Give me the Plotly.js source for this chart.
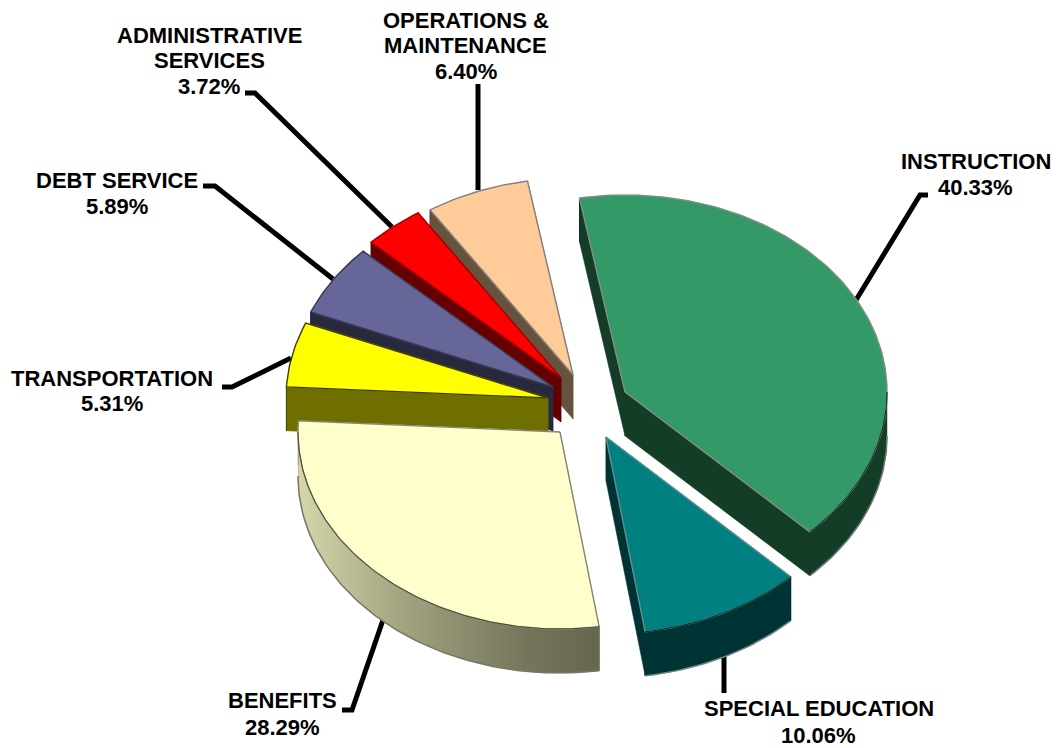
<!DOCTYPE html>
<html>
<head>
<meta charset="utf-8">
<script src="https://cdn.plot.ly/plotly-3.0.1.min.js"></script>
<style>html,body{margin:0;padding:0;background:#fff}#chart{width:1057px;height:748px}</style>
</head>
<body>
<div id="chart"></div>
<script>
// Budget shares, clockwise from the first slice
const categories = ['INSTRUCTION', 'SPECIAL EDUCATION', 'BENEFITS', 'TRANSPORTATION', 'DEBT SERVICE', 'ADMINISTRATIVE SERVICES', 'OPERATIONS & MAINTENANCE'];
const shares = [40.33, 10.06, 28.29, 5.31, 5.89, 3.72, 6.40];
const labelLines = [['INSTRUCTION'], ['SPECIAL EDUCATION'], ['BENEFITS'], ['TRANSPORTATION'], ['DEBT SERVICE'], ['ADMINISTRATIVE', 'SERVICES'], ['OPERATIONS &', 'MAINTENANCE']];

// Styling per slice
const topColors = ['#339966', '#008080', '#FFFFCC', '#FFFF00', '#666699', '#FF0000', '#FFCC99'];
const wallColors = ['#143d28', '#003333', '#99996f', '#6f6f00', '#29293d', '#660000', '#66523d'];
const backEdges = ['#7f8f85', '#5f8f8f', '#858578', '#3f3f00', '#3a3a55', '#a00000', '#808080'];
const frontEdges = ['#0e2c1d', '#002626', '#4a4a38', '#3f3f00', '#1f1f30', '#4d0000', '#4d3d2e'];
const lowerEdges = ['#6d7570', '#6f8585', '#77776c', '#6f6f00', '#29293d', '#660000', '#808080'];

// Tilted-pie geometry
const radiusX = 262, radiusY = 197, depth = 44, startAngle = -10;
const tips = [[625, 392], [606, 437], [560, 432], [548, 398], [553, 387], [561, 378], [573, 375]];
const paintOrder = [6, 5, 4, 3, 0, 1, 2];

// Label placement: centre x, first line y, line gap
const labelX = [975.5, 818.5, 282, 112, 116.5, 209, 465.5];
const labelY = [161, 708, 700, 378, 180, 35, 20];
const labelGap = [26, 27, 27, 25, 26, 25.5, 25.5];
const leaderPaths = [
  [[928, 195], [920, 195], [856, 300]],
  [[724, 693], [724, 655]],
  [[342, 710], [352, 710], [383, 620]],
  [[222, 387], [232, 387], [291, 358]],
  [[203, 186], [215, 186], [333, 279]],
  [[245, 93], [255, 93], [392, 227]],
  [[478, 84], [478, 190]]
];

const rad = Math.PI / 180;
function rimPoint(tip, t, drop) {
  return [tip[0] + radiusX * Math.sin(t * rad), tip[1] - radiusY * Math.cos(t * rad) + drop];
}
function arc(tip, a, b, drop) {
  const steps = Math.max(2, Math.ceil(Math.abs(b - a)));
  const pts = [];
  for (let i = 0; i <= steps; i++) pts.push(rimPoint(tip, a + (b - a) * i / steps, drop));
  return pts;
}
function polygon(name, pts, fill, extra) {
  const closed = pts.concat([pts[0]]);
  return Object.assign({
    type: 'scatter', mode: 'lines', name: name, showlegend: false, hoverinfo: 'skip',
    x: closed.map(p => p[0]), y: closed.map(p => p[1]),
    fill: 'toself', fillcolor: fill, line: { color: fill, width: 0.5 }
  }, extra || {});
}
function stroke(name, pts, color, width) {
  return {
    type: 'scatter', mode: 'lines', name: name, showlegend: false, hoverinfo: 'skip',
    x: pts.map(p => p[0]), y: pts.map(p => p[1]), line: { color: color, width: width }
  };
}

const traces = [];
leaderPaths.forEach((path, i) => traces.push({
  type: 'scatter', mode: 'lines', name: categories[i] + ' leader', showlegend: false, hoverinfo: 'skip',
  x: path.map(p => p[0]), y: path.map(p => p[1]), line: { color: '#000', width: 5 }
}));

// Slice angles accumulate from the shares
const spans = [];
let running = startAngle;
shares.forEach(s => { spans.push([running, running + s * 3.6]); running += s * 3.6; });

paintOrder.forEach(i => {
  const tip = tips[i], a = spans[i][0], b = spans[i][1];
  const name = categories[i];
  // radial cut faces
  [a, b].forEach(t => {
    const p = rimPoint(tip, t, 0), q = rimPoint(tip, t, depth);
    traces.push(polygon(name + ' cut', [tip, p, q, [tip[0], tip[1] + depth]], wallColors[i]));
    traces.push(stroke(name + ' cut edge', [p, q], frontEdges[i], 1));
  });
  // outer rim, only the part that faces the viewer
  const va = Math.max(a, 90), vb = Math.min(b, 270);
  const hasRim = vb > va;
  if (hasRim) {
    const rim = arc(tip, va, vb, 0).concat(arc(tip, vb, va, depth));
    const extra = i === 2 ? {
      fillgradient: { type: 'horizontal', colorscale: [[0, '#d6d6aa'], [0.35, '#a3a380'], [0.75, '#76765c'], [1, '#66664f']] }
    } : {};
    traces.push(polygon(name + ' rim', rim, wallColors[i], extra));
    traces.push(stroke(name + ' rim edge', arc(tip, va, vb, depth), lowerEdges[i], 1.5));
  }
  // top face with its edges: light on the far side, dark along the near rim
  traces.push(polygon(name, [tip].concat(arc(tip, a, b, 0)), topColors[i]));
  traces.push(stroke(name + ' edge', [tip].concat(arc(tip, a, b, 0)).concat([tip]), backEdges[i], 1.4));
  if (hasRim) traces.push(stroke(name + ' near edge', arc(tip, va, vb, 0), frontEdges[i], 1));
});

// One annotation per text line so the line gap can be set exactly
const annotations = [];
categories.forEach((c, i) => {
  labelLines[i].concat([shares[i].toFixed(2) + '%']).forEach((line, k) => {
    annotations.push({
      xref: 'x', yref: 'y', x: labelX[i], y: labelY[i] + k * labelGap[i],
      text: line, showarrow: false, align: 'center', xanchor: 'center', yanchor: 'middle',
      font: { family: 'Liberation Sans, Arial, sans-serif', size: 22, color: '#000', weight: 700 }
    });
  });
});

Plotly.newPlot('chart', traces, {
  width: 1057, height: 748,
  margin: { l: 0, r: 0, t: 0, b: 0 },
  paper_bgcolor: '#fff', plot_bgcolor: '#fff',
  showlegend: false, hovermode: false,
  xaxis: { range: [0, 1057], visible: false, fixedrange: true },
  yaxis: { range: [748, 0], visible: false, fixedrange: true },
  annotations: annotations
}, { displayModeBar: false, staticPlot: true });
</script>
</body>
</html>
